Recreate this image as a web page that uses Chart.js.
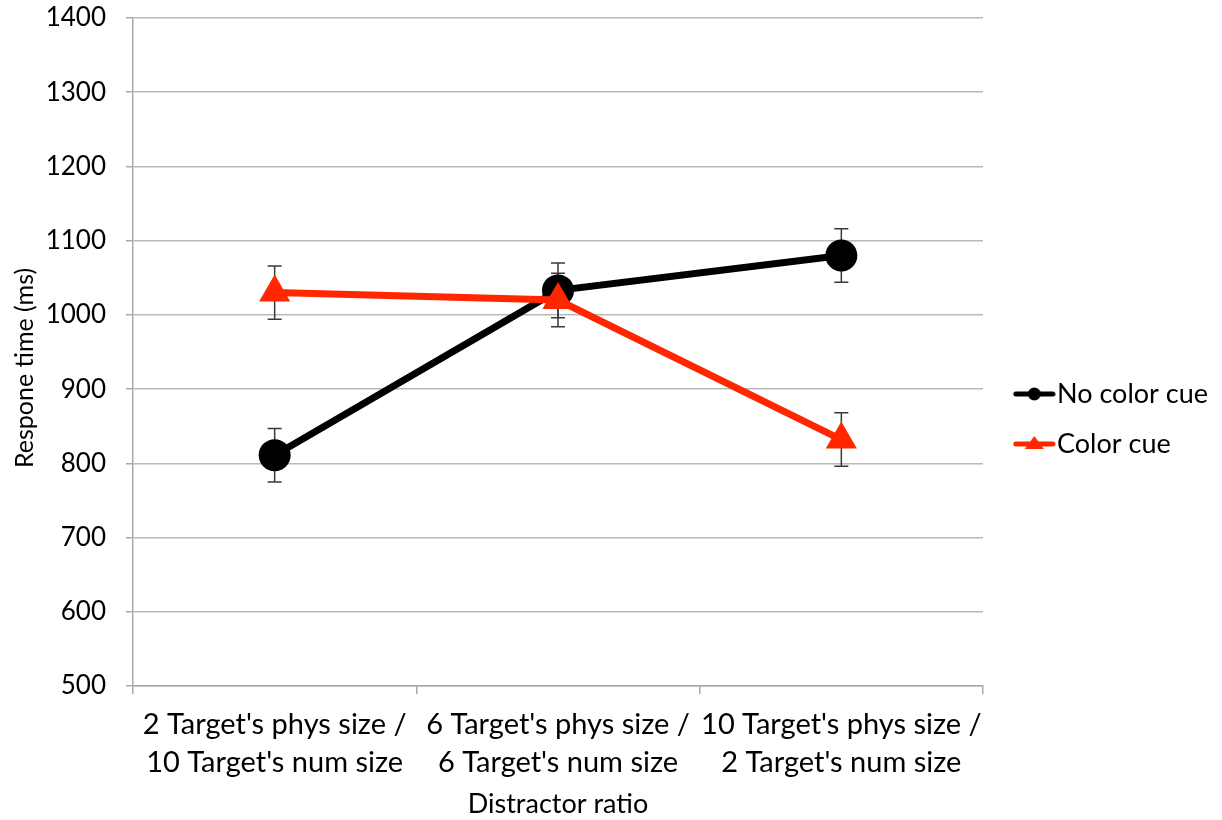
<!DOCTYPE html>
<html>
<head>
<meta charset="utf-8">
<script src="https://cdn.jsdelivr.net/npm/chart.js@4/dist/chart.umd.min.js"></script>
<style>
  html, body { margin: 0; padding: 0; background: #ffffff; }
  #wrap { width: 1222px; height: 820px; }
</style>
</head>
<body>
<div id="wrap"><canvas id="chart" width="1222" height="820"></canvas></div>
<script>
// Distractor ratio conditions (two-line category labels)
const categories = [
  ["2 Target's phys size /", "10 Target's num size"],
  ["6 Target's phys size /", "6 Target's num size"],
  ["10 Target's phys size /", "2 Target's num size"]
];
const seriesNames = ["No color cue", "Color cue"];

// Mean response times (ms) and their error margins
const noCueMeans = [811, 1033, 1080];
const noCueErrors = [36, 37, 36];
const cueMeans = [1030, 1020, 832];
const cueErrors = [36, 36, 36];

// Value axis range
const yMin = 500;
const yMax = 1400;
const yStep = 100;

const FONT = "Lato";
const BLACK = "#000000";
const RED = "#ff2600";
const GRID = "#b9b9b9";
const AXIS = "#a9a9a9";

// Legend icon: a short line with the series marker in its middle
function legendIcon(color, shape) {
  const c = document.createElement("canvas");
  c.width = 62; c.height = 22;
  const g = c.getContext("2d");
  g.strokeStyle = color; g.lineWidth = 5; g.lineCap = "round";
  g.beginPath(); g.moveTo(22, 11); g.lineTo(59, 11); g.stroke();
  g.fillStyle = color;
  g.beginPath();
  if (shape === "circle") {
    g.arc(40.5, 11, 6.5, 0, Math.PI * 2);
  } else {
    g.moveTo(40.5, 3); g.lineTo(50, 16); g.lineTo(31, 16); g.closePath();
  }
  g.fill();
  return c;
}
const legendIcons = [legendIcon(BLACK, "circle"), legendIcon(RED, "triangle")];

// Error bars drawn beneath the lines and markers
const errorBars = {
  id: "errorBars",
  beforeDatasetsDraw(chart) {
    const ctx = chart.ctx;
    const y = chart.scales.y;
    const errs = [noCueErrors, cueErrors];
    ctx.save();
    ctx.strokeStyle = "#3a3a3a";
    ctx.lineWidth = 1.5;
    chart.data.datasets.forEach((ds, di) => {
      const meta = chart.getDatasetMeta(di);
      meta.data.forEach((pt, i) => {
        const v = ds.data[i];
        const top = y.getPixelForValue(v + errs[di][i]);
        const bot = y.getPixelForValue(v - errs[di][i]);
        const x = pt.x;
        ctx.beginPath();
        ctx.moveTo(x, top); ctx.lineTo(x, bot);
        ctx.moveTo(x - 7, top); ctx.lineTo(x + 7, top);
        ctx.moveTo(x - 7, bot); ctx.lineTo(x + 7, bot);
        ctx.stroke();
      });
    });
    ctx.restore();
  }
};

new Chart(document.getElementById("chart"), {
  type: "line",
  data: {
    labels: categories,
    datasets: [
      {
        label: seriesNames[0],
        data: noCueMeans,
        borderColor: BLACK,
        backgroundColor: BLACK,
        borderWidth: 7,
        pointStyle: "circle",
        pointRadius: 16,
        pointBorderWidth: 0,
        pointBackgroundColor: BLACK,
        tension: 0,
        order: 2
      },
      {
        label: seriesNames[1],
        data: cueMeans,
        borderColor: RED,
        backgroundColor: RED,
        borderWidth: 7,
        pointStyle: "triangle",
        pointRadius: 18,
        pointBorderWidth: 0,
        pointBackgroundColor: RED,
        tension: 0,
        order: 1
      }
    ]
  },
  options: {
    responsive: false,
    animation: false,
    devicePixelRatio: 1,
    layout: { padding: { top: 18, right: 4, bottom: 0, left: 0 } },
    plugins: {
      tooltip: { enabled: false },
      legend: {
        position: "right",
        maxWidth: 239,
        labels: {
          usePointStyle: true,
          pointStyleWidth: 37.5,
          padding: 23,
          color: "#000000",
          font: { family: FONT, size: 27 },
          sort: (a, b) => a.datasetIndex - b.datasetIndex,
          generateLabels(chart) {
            const items = Chart.defaults.plugins.legend.labels.generateLabels(chart);
            items.forEach(it => { it.pointStyle = legendIcons[it.datasetIndex]; });
            return items;
          }
        }
      }
    },
    scales: {
      x: {
        type: "category",
        offset: true,
        grid: {
          offset: true,
          drawOnChartArea: false,
          drawTicks: true,
          tickLength: 8,
          color: AXIS,
          lineWidth: 1.5
        },
        border: { display: true, color: AXIS, width: 1.5 },
        ticks: {
          color: "#000000",
          padding: 11,
          maxRotation: 0,
          autoSkip: false,
          font: { family: FONT, size: 29, lineHeight: 1.33 }
        },
        title: {
          display: true,
          text: "Distractor ratio",
          color: "#000000",
          font: { family: FONT, size: 27, lineHeight: 1.2 },
          padding: { top: 0, bottom: 0 }
        },
        afterFit(scale) { scale.height = 134; }
      },
      y: {
        min: yMin,
        max: yMax,
        ticks: {
          stepSize: yStep,
          color: "#000000",
          padding: 20,
          font: { family: FONT, size: 26 },
          callback: (v) => String(v)
        },
        grid: {
          color: GRID,
          lineWidth: 1.5,
          tickLength: 7,
          tickColor: AXIS
        },
        border: { display: true, color: AXIS, width: 1.5 },
        title: {
          display: true,
          text: "Respone time (ms)",
          color: "#000000",
          font: { family: FONT, size: 25, lineHeight: 1.2 },
          padding: { top: 10, bottom: 0 }
        },
        afterFit(scale) {
          scale.width = 133;
          scale.paddingTop = 0;
          scale.paddingBottom = 0;
          // axis title sits a little below the plot's vertical middle
          if (!scale._titleNudged) {
            const drawTitle = scale.drawTitle;
            scale.drawTitle = function () {
              this.ctx.save();
              this.ctx.translate(0, 16);
              drawTitle.call(this);
              this.ctx.restore();
            };
            scale._titleNudged = true;
          }
        }
      }
    }
  },
  plugins: [errorBars]
});
</script>
</body>
</html>
